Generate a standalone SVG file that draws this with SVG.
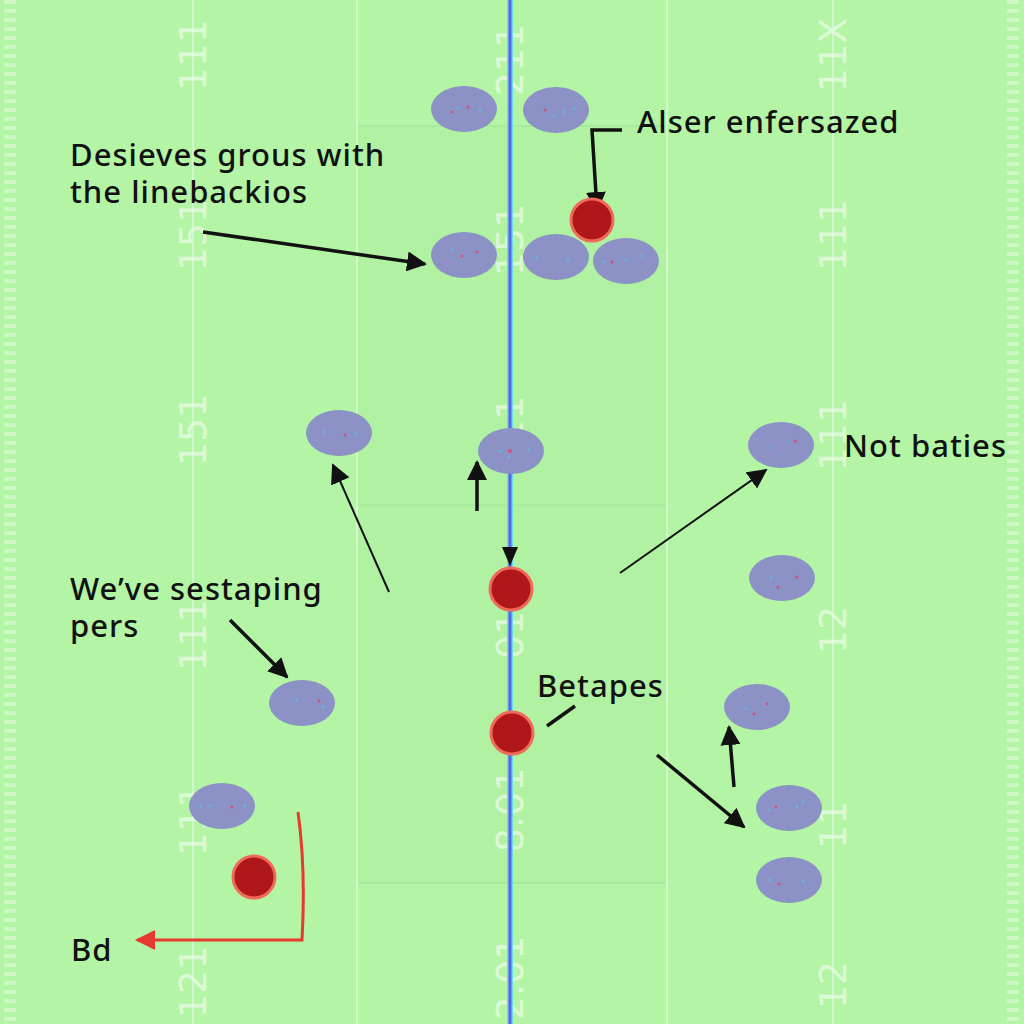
<svg xmlns="http://www.w3.org/2000/svg" width="1024" height="1024" viewBox="0 0 1024 1024">
<defs>
<style>
.field{fill:#b3f5a4}
.fline{stroke:#d2f7cc;stroke-width:2;fill:none}
.box{stroke:#a6eb9c;stroke-width:2;fill:#b1f2a2}
.yard{fill:#e9fbe5;font-family:"DejaVu Sans",sans-serif;font-size:38px;text-anchor:middle;dominant-baseline:central;opacity:.75}
.side{stroke:#d8f8d2;stroke-width:12;stroke-dasharray:4 5;opacity:.75}
.pl{fill:#8c92c6}
.rd{fill:#b0171a;stroke:#ef6a58;stroke-width:3}
.dr{fill:#d0547a}
.db{fill:#6ab2e6}
.lbl{font-family:"Noto Sans","Liberation Sans",sans-serif;font-size:31px;font-weight:500;letter-spacing:1px;fill:#111}
.ar{stroke:#111;stroke-width:3.5;fill:none}
.art{stroke:#111;stroke-width:2;fill:none}
</style>
<marker id="ah" viewBox="0 0 10 10" refX="9" refY="5" markerWidth="20" markerHeight="20" markerUnits="userSpaceOnUse" orient="auto"><path d="M0,0 L10,5 L0,10 z" fill="#111"/></marker>
<marker id="ahr" viewBox="0 0 10 10" refX="9" refY="5" markerWidth="20" markerHeight="20" markerUnits="userSpaceOnUse" orient="auto"><path d="M0,0 L10,5 L0,10 z" fill="#e8392e"/></marker>
</defs>
<rect class="field" x="0" y="0" width="1024" height="1024"/>
<rect class="box" x="357" y="126" width="310" height="757"/>
<line class="fline" x1="357" y1="505" x2="667" y2="505" style="stroke:#a8ec9e"/>
<line class="fline" x1="193" y1="0" x2="193" y2="1024"/>
<line class="fline" x1="357" y1="0" x2="357" y2="1024"/>
<line class="fline" x1="667" y1="0" x2="667" y2="1024"/>
<line class="fline" x1="833" y1="0" x2="833" y2="1024"/>
<line class="side" x1="10" y1="0" x2="10" y2="1024"/>
<line class="side" x1="1013" y1="0" x2="1013" y2="1024"/>
<g id="yard-marks">
<text class="yard" transform="translate(193,55) rotate(-90)">111</text>
<text class="yard" transform="translate(193,235) rotate(-90)">151</text>
<text class="yard" transform="translate(193,430) rotate(-90)">151</text>
<text class="yard" transform="translate(193,635) rotate(-90)">111</text>
<text class="yard" transform="translate(193,820) rotate(-90)">111</text>
<text class="yard" transform="translate(193,982) rotate(-90)">121</text>
<text class="yard" transform="translate(510,60) rotate(-90)">211</text>
<text class="yard" transform="translate(510,240) rotate(-90)">151</text>
<text class="yard" transform="translate(510,420) rotate(-90)">11</text>
<text class="yard" transform="translate(510,635) rotate(-90)">01</text>
<text class="yard" transform="translate(510,810) rotate(-90)">8.01</text>
<text class="yard" transform="translate(510,978) rotate(-90)">2.01</text>
<text class="yard" transform="translate(833,55) rotate(-90)">11X</text>
<text class="yard" transform="translate(833,235) rotate(-90)">111</text>
<text class="yard" transform="translate(833,435) rotate(-90)">111</text>
<text class="yard" transform="translate(833,630) rotate(-90)">12</text>
<text class="yard" transform="translate(833,825) rotate(-90)">11</text>
<text class="yard" transform="translate(833,985) rotate(-90)">12</text>
</g>
<g id="center-line">
<line x1="510" y1="0" x2="510" y2="1024" stroke="#6fd6f0" stroke-width="6"/>
<line x1="510" y1="0" x2="510" y2="1024" stroke="#5566e6" stroke-width="3"/>
</g>
<g id="connectors">
<line class="ar" x1="203" y1="232" x2="425" y2="264" marker-end="url(#ah)"/>
<polyline class="ar" points="622,130 592,130 597,210" marker-end="url(#ah)"/>
<line class="art" x1="389" y1="592" x2="333" y2="465" marker-end="url(#ah)"/>
<line class="ar" x1="477" y1="511" x2="477" y2="462" marker-end="url(#ah)"/>
<polygon points="502,547 518,547 510,566" fill="#111"/>
<line class="art" x1="620" y1="573" x2="766" y2="470" marker-end="url(#ah)"/>
<line class="ar" x1="230" y1="620" x2="287" y2="677" marker-end="url(#ah)"/>
<line class="ar" x1="547" y1="726" x2="575" y2="706"/>
<line class="ar" x1="734" y1="787" x2="729" y2="727" marker-end="url(#ah)"/>
<line class="ar" x1="657" y1="755" x2="744" y2="827" marker-end="url(#ah)"/>
<path d="M298,812 Q306,870 302,940 L137,940" stroke="#e8392e" stroke-width="3" fill="none" marker-end="url(#ahr)"/>
</g>
<g id="p1"><ellipse class="pl" cx="464" cy="109" rx="33" ry="23"/><circle class="dr" cx="452" cy="112" r="1.6"/><circle class="db" cx="458" cy="108" r="1.4"/><circle class="dr" cx="468" cy="107" r="1.6"/><circle class="db" cx="480" cy="110" r="1.4"/></g>
<g id="p2"><ellipse class="pl" cx="556" cy="110" rx="33" ry="23"/><circle class="dr" cx="545" cy="110" r="1.4"/><circle class="db" cx="554" cy="116" r="1.4"/><circle class="db" cx="564" cy="112" r="1.4"/><circle class="db" cx="574" cy="109" r="1.4"/></g>
<g id="p3"><ellipse class="pl" cx="464" cy="255" rx="33" ry="23"/><circle class="db" cx="452" cy="250" r="1.4"/><circle class="dr" cx="462" cy="256" r="1.6"/><circle class="dr" cx="477" cy="252" r="1.6"/></g>
<g id="p4"><ellipse class="pl" cx="556" cy="257" rx="33" ry="23"/><circle class="db" cx="537" cy="258" r="1.4"/><circle class="db" cx="568" cy="260" r="1.4"/></g>
<g id="p5"><ellipse class="pl" cx="626" cy="261" rx="33" ry="23"/><circle class="db" cx="604" cy="262" r="1.4"/><circle class="dr" cx="612" cy="262" r="1.4"/><circle class="db" cx="626" cy="260" r="1.4"/><circle class="db" cx="642" cy="256" r="1.4"/></g>
<g id="r1"><circle class="rd" cx="592" cy="220" r="21"/></g>
<g id="p6"><ellipse class="pl" cx="339" cy="433" rx="33" ry="23"/><circle class="db" cx="324" cy="432" r="1.4"/><circle class="dr" cx="345" cy="435" r="1.4"/><circle class="db" cx="356" cy="434" r="1.4"/></g>
<g id="p7"><ellipse class="pl" cx="511" cy="451" rx="33" ry="23"/><circle class="db" cx="500" cy="451" r="1.4"/><circle class="dr" cx="510" cy="451" r="2"/><circle class="db" cx="509" cy="457" r="1.4"/><circle class="db" cx="529" cy="450" r="1.4"/></g>
<g id="p8"><ellipse class="pl" cx="781" cy="445" rx="33" ry="23"/><circle class="db" cx="768" cy="448" r="1.4"/><circle class="dr" cx="795" cy="441" r="1.6"/></g>
<g id="p9"><ellipse class="pl" cx="782" cy="578" rx="33" ry="23"/><circle class="db" cx="771" cy="578" r="1.4"/><circle class="dr" cx="778" cy="587" r="1.6"/><circle class="dr" cx="797" cy="577" r="1.6"/></g>
<g id="p10"><ellipse class="pl" cx="757" cy="707" rx="33" ry="23"/><circle class="db" cx="746" cy="709" r="1.4"/><circle class="dr" cx="754" cy="714" r="1.6"/><circle class="dr" cx="767" cy="704" r="1.4"/></g>
<g id="p11"><ellipse class="pl" cx="789" cy="808" rx="33" ry="23"/><circle class="db" cx="769" cy="810" r="1.4"/><circle class="dr" cx="776" cy="807" r="1.4"/><circle class="db" cx="797" cy="807" r="1.4"/><circle class="db" cx="803" cy="802" r="1.4"/></g>
<g id="p12"><ellipse class="pl" cx="789" cy="880" rx="33" ry="23"/><circle class="db" cx="769" cy="880" r="1.4"/><circle class="dr" cx="779" cy="884" r="1.4"/><circle class="db" cx="803" cy="881" r="1.4"/></g>
<g id="p13"><ellipse class="pl" cx="302" cy="703" rx="33" ry="23"/><circle class="db" cx="297" cy="700" r="1.4"/><circle class="dr" cx="319" cy="701" r="1.4"/><circle class="db" cx="323" cy="707" r="1.4"/></g>
<g id="p14"><ellipse class="pl" cx="222" cy="806" rx="33" ry="23"/><circle class="db" cx="201" cy="806" r="1.4"/><circle class="db" cx="210" cy="806" r="1.4"/><circle class="dr" cx="232" cy="807" r="1.6"/><circle class="db" cx="245" cy="806" r="1.4"/></g>
<g id="r2"><circle class="rd" cx="511" cy="589" r="21"/></g>
<g id="r3"><circle class="rd" cx="512" cy="733" r="21"/></g>
<g id="r4"><circle class="rd" cx="254" cy="877" r="21"/></g>
<g id="labels">
<text class="lbl" x="70" y="166">Desieves grous with<tspan x="70" y="203">the linebackios</tspan></text>
<text class="lbl" x="637" y="133">Alser enfersazed</text>
<text class="lbl" x="844" y="457">Not baties</text>
<text class="lbl" x="70" y="600">We’ve sestaping<tspan x="70" y="637">pers</tspan></text>
<text class="lbl" x="537" y="697">Betapes</text>
<text class="lbl" x="71" y="961">Bd</text>
</g>
</svg>
